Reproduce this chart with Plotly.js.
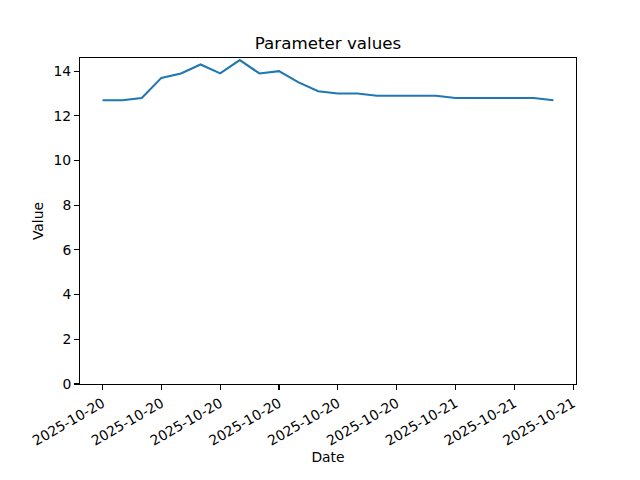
<!DOCTYPE html>
<html>
<head>
<meta charset="utf-8">
<script src="https://cdn.plot.ly/plotly-3.0.1.min.js"></script>
<style>html,body{margin:0;padding:0;background:#fff;}#chart{width:640px;height:480px;}</style>
</head>
<body>
<div id="chart"></div>
<script>
// Hourly timestamps
const dates = [
  "2025-10-20 06:00","2025-10-20 07:00","2025-10-20 08:00","2025-10-20 09:00",
  "2025-10-20 10:00","2025-10-20 11:00","2025-10-20 12:00","2025-10-20 13:00",
  "2025-10-20 14:00","2025-10-20 15:00","2025-10-20 16:00","2025-10-20 17:00",
  "2025-10-20 18:00","2025-10-20 19:00","2025-10-20 20:00","2025-10-20 21:00",
  "2025-10-20 22:00","2025-10-20 23:00","2025-10-21 00:00","2025-10-21 01:00",
  "2025-10-21 02:00","2025-10-21 03:00","2025-10-21 04:00","2025-10-21 05:00"
];
const values = [12.7,12.7,12.8,13.7,13.9,14.3,13.9,14.5,13.9,14.0,13.5,13.1,
                13.0,13.0,12.9,12.9,12.9,12.9,12.8,12.8,12.8,12.8,12.8,12.7];
const tickDates = [
  "2025-10-20 06:00","2025-10-20 09:00","2025-10-20 12:00","2025-10-20 15:00",
  "2025-10-20 18:00","2025-10-20 21:00","2025-10-21 00:00","2025-10-21 03:00",
  "2025-10-21 06:00"
];
const tickLabels = ["2025-10-20","2025-10-20","2025-10-20","2025-10-20","2025-10-20",
                    "2025-10-20","2025-10-21","2025-10-21","2025-10-21"];
const yTicks = [0,2,4,6,8,10,12,14];

const font = "DejaVu Sans, sans-serif";
const trace = {
  x: dates, y: values, type: "scatter", mode: "lines",
  line: {color: "#1f77b4", width: 2.1}, hoverinfo: "skip"
};
const layout = {
  width: 640, height: 480,
  margin: {l: 80, r: 64, t: 58, b: 96},
  paper_bgcolor: "#fff", plot_bgcolor: "#fff",
  showlegend: false,
  font: {family: font, size: 13.9, color: "#000"},
  title: {text: "Parameter values", font: {family: font, size: 16.7, color: "#000"},
          x: 0.5, xref: "paper", xanchor: "center", y: 1 - 43/480, yref: "container", yanchor: "middle"},
  xaxis: {
    type: "date",
    range: ["2025-10-20 04:51", "2025-10-21 06:09"],
    tickmode: "array", tickvals: tickDates, ticktext: tickLabels,
    tickangle: -30,
    ticks: "outside", ticklen: 4.9, tickwidth: 1.1, tickcolor: "#000",
    showline: true, linecolor: "#000", linewidth: 1.1, mirror: true,
    showgrid: false, zeroline: false,
    tickfont: {family: font, size: 13.9, color: "#000"},
    title: {text: "Date", font: {family: font, size: 13.9, color: "#000"}, standoff: 4}
  },
  yaxis: {
    range: [0, 14.59],
    tickmode: "array", tickvals: yTicks,
    ticks: "outside", ticklen: 4.9, tickwidth: 1.1, tickcolor: "#000",
    showline: true, linecolor: "#000", linewidth: 1.1, mirror: true,
    showgrid: false, zeroline: false,
    tickfont: {family: font, size: 13.9, color: "#000"},
    title: {text: "Value", font: {family: font, size: 13.9, color: "#000"}, standoff: 6}
  }
};
Plotly.newPlot("chart", [trace], layout, {displayModeBar: false, staticPlot: true});
</script>
</body>
</html>
